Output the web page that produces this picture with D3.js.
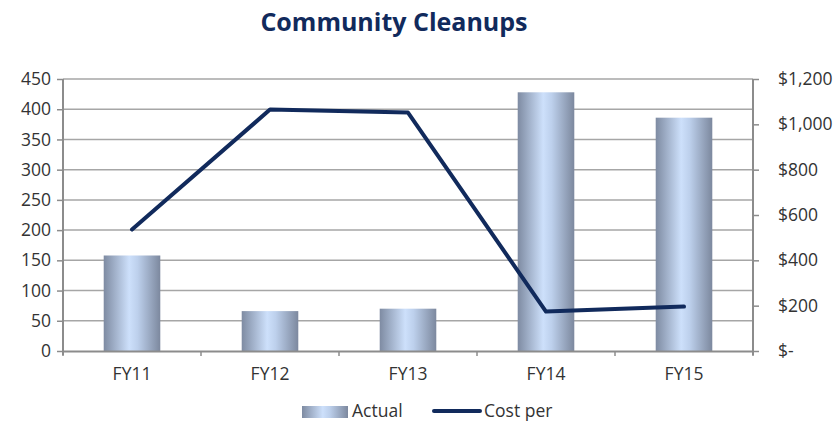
<!DOCTYPE html>
<html>
<head>
<meta charset="utf-8">
<script src="https://cdnjs.cloudflare.com/ajax/libs/d3/7.8.5/d3.min.js"></script>
<style>
body { margin: 0; background: #fff; }
text { font-family: "Open Sans", sans-serif; }
</style>
</head>
<body>
<svg id="chart" width="840" height="424"></svg>
<script>
// chart data
const CATEGORIES = ["FY11", "FY12", "FY13", "FY14", "FY15"];
const ACTUAL = [158, 66, 70, 428, 386];
const COST_PER = [536, 1065, 1052, 174, 196];
const LEFT_TICKS = [0, 50, 100, 150, 200, 250, 300, 350, 400, 450];
const RIGHT_TICKS = [0, 200, 400, 600, 800, 1000, 1200];

const NAVY = "#112a5c";
var svg = d3.select("#chart");

var plotLeft = 63, plotRight = 753, plotTop = 79, plotBottom = 351;

var x = d3.scaleBand().domain(CATEGORIES).range([plotLeft, plotRight]).paddingInner(0.59).paddingOuter(0.295);
var xOuter = d3.scaleBand().domain(CATEGORIES).range([plotLeft, plotRight]);
var yL = d3.scaleLinear().domain([0, 450]).range([plotBottom, plotTop]);
var yR = d3.scaleLinear().domain([0, 1200]).range([plotBottom, plotTop]);

// gradient for bars
var defs = svg.append("defs");
var grad = defs.append("linearGradient").attr("id", "barGrad")
    .attr("x1", "0%").attr("x2", "100%").attr("y1", "0%").attr("y2", "0%");
grad.append("stop").attr("offset", "0%").attr("stop-color", "#7e8ba2");
grad.append("stop").attr("offset", "45%").attr("stop-color", "#cde0fb");
grad.append("stop").attr("offset", "60%").attr("stop-color", "#bdd0ec");
grad.append("stop").attr("offset", "100%").attr("stop-color", "#7c889e");

// title
svg.append("text").attr("x", 394).attr("y", 31).attr("text-anchor", "middle")
    .attr("font-size", 25).attr("font-weight", "bold").attr("fill", NAVY)
    .text("Community Cleanups");

// gridlines
svg.append("g").selectAll("line").data(LEFT_TICKS.slice(1)).join("line")
    .attr("x1", plotLeft).attr("x2", plotRight)
    .attr("y1", d => yL(d)).attr("y2", d => yL(d))
    .attr("stroke", "#a6a6a6").attr("stroke-width", 1.5);

// bars
svg.append("g").selectAll("rect").data(ACTUAL).join("rect")
    .attr("x", (d, i) => x(CATEGORIES[i]))
    .attr("width", x.bandwidth())
    .attr("y", d => yL(d))
    .attr("height", d => yL(0) - yL(d))
    .attr("fill", "url(#barGrad)");

// axes
var axisL = svg.append("g").attr("transform", "translate(" + plotLeft + ",0)")
    .call(d3.axisLeft(yL).tickValues(LEFT_TICKS).tickSize(6).tickPadding(6));
var axisR = svg.append("g").attr("transform", "translate(" + plotRight + ",0)")
    .call(d3.axisRight(yR).tickValues(RIGHT_TICKS).tickSize(6).tickPadding(19)
        .tickFormat(d => d === 0 ? "$-" : "$" + d3.format(",")(d)));
var axisB = svg.append("g").attr("transform", "translate(0," + plotBottom + ")")
    .call(d3.axisBottom(xOuter).tickSize(0).tickPadding(17));
// x tick marks between categories
svg.append("g").selectAll("line").data(d3.range(CATEGORIES.length + 1)).join("line")
    .attr("x1", i => plotLeft + i * xOuter.step()).attr("x2", i => plotLeft + i * xOuter.step())
    .attr("y1", plotBottom).attr("y2", plotBottom + 5)
    .attr("stroke", "#8c8c8c").attr("stroke-width", 1.5);

[axisL, axisR, axisB].forEach(function(g) {
  g.select(".domain").attr("stroke", "#8c8c8c").attr("stroke-width", 2);
  g.selectAll(".tick line").attr("stroke", "#8c8c8c").attr("stroke-width", 1.5);
  g.selectAll("text").attr("font-size", 17.5).attr("fill", "#333").attr("font-family", "Open Sans");
});
axisL.select(".domain").attr("d", "M0," + plotTop + "V" + (plotBottom + 4));
axisR.select(".domain").attr("d", "M0," + plotTop + "V" + (plotBottom + 4));

// line
var line = d3.line()
    .x((d, i) => xOuter(CATEGORIES[i]) + xOuter.bandwidth() / 2)
    .y(d => yR(d));
svg.append("path").datum(COST_PER).attr("d", line)
    .attr("fill", "none").attr("stroke", NAVY).attr("stroke-width", 4)
    .attr("stroke-linejoin", "round").attr("stroke-linecap", "round");

// legend
var lg = svg.append("g");
lg.append("rect").attr("x", 302).attr("y", 406).attr("width", 46).attr("height", 12).attr("fill", "url(#barGrad)");
lg.append("text").attr("x", 352).attr("y", 417).attr("font-size", 17.5).attr("fill", "#333").text("Actual");
lg.append("line").attr("x1", 434).attr("x2", 480).attr("y1", 411).attr("y2", 411)
    .attr("stroke", NAVY).attr("stroke-width", 4).attr("stroke-linecap", "round");
lg.append("text").attr("x", 484).attr("y", 417).attr("font-size", 17.5).attr("fill", "#333").text("Cost per");
</script>
</body>
</html>
